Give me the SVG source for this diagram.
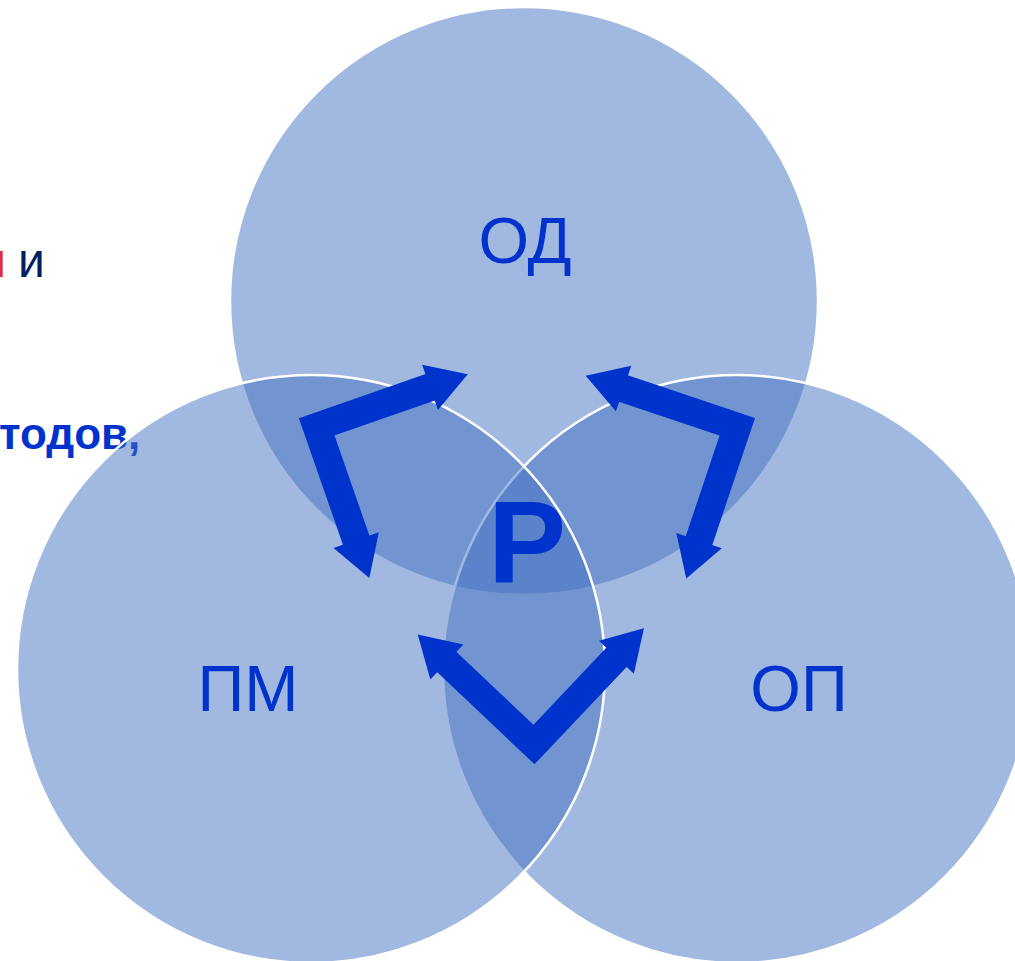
<svg xmlns="http://www.w3.org/2000/svg" xmlns:xlink="http://www.w3.org/1999/xlink" width="1015" height="961" viewBox="0 0 1015 961">
  <style>
    .circ { fill: rgb(67,113,193); fill-opacity: 0.5; stroke: #ffffff; stroke-width: 2.5; }
    .lbl { font-family: "Liberation Sans", Arial, sans-serif; font-size: 65px; fill: #0033CC; text-anchor: middle; }
    .arr { fill: #0033CC; }
    .side { font-family: "Liberation Sans", Arial, sans-serif; font-size: 48px; }
    .side-bold { font-family: "Liberation Sans", Arial, sans-serif; font-size: 44px; font-weight: bold; fill: #0033CC; }
  </style>
  <defs>
    <g id="bentArrow">
      <polyline points="121,0 0,0 0,121" fill="none" stroke="#0033CC" stroke-width="28" stroke-linejoin="miter"/>
      <polygon class="arr" points="160,0 120,-24 120,24"/>
      <polygon class="arr" points="0,160 -24,120 24,120"/>
    </g>
  </defs>
  <rect width="1015" height="961" fill="#ffffff"/>

  <g id="side-text">
    <text class="side" x="6" y="277" fill="#E03030" text-anchor="end">н</text>
    <text class="side" x="18" y="277" fill="#002060">и</text>
    <text class="side-bold" x="-1" y="449">тодов,</text>
  </g>

  <g id="node-od">
    <circle class="circ" cx="524" cy="301" r="294"/>
  </g>
  <g id="node-op">
    <circle class="circ" cx="737" cy="669" r="294"/>
  </g>
  <g id="node-pm">
    <circle class="circ" cx="311" cy="669" r="294"/>
  </g>

  <g id="labels">
    <text class="lbl" x="525" y="263">ОД</text>
    <text class="lbl" x="248" y="711">ПМ</text>
    <text class="lbl" x="799" y="711">ОП</text>
  </g>

  <g id="node-center">
    <text x="488" y="582" font-family="'Liberation Sans', Arial, sans-serif" font-weight="bold" font-size="117px" fill="#0033CC">Р</text>
  </g>

  <g id="connectors">
    <use xlink:href="#bentArrow" transform="translate(316.7,426.8) rotate(-19.2)"/>
    <use xlink:href="#bentArrow" transform="translate(737.3,426.8) rotate(108.6)"/>
    <use xlink:href="#bentArrow" transform="translate(534,744.5) rotate(-136.6)"/>
  </g>
</svg>
